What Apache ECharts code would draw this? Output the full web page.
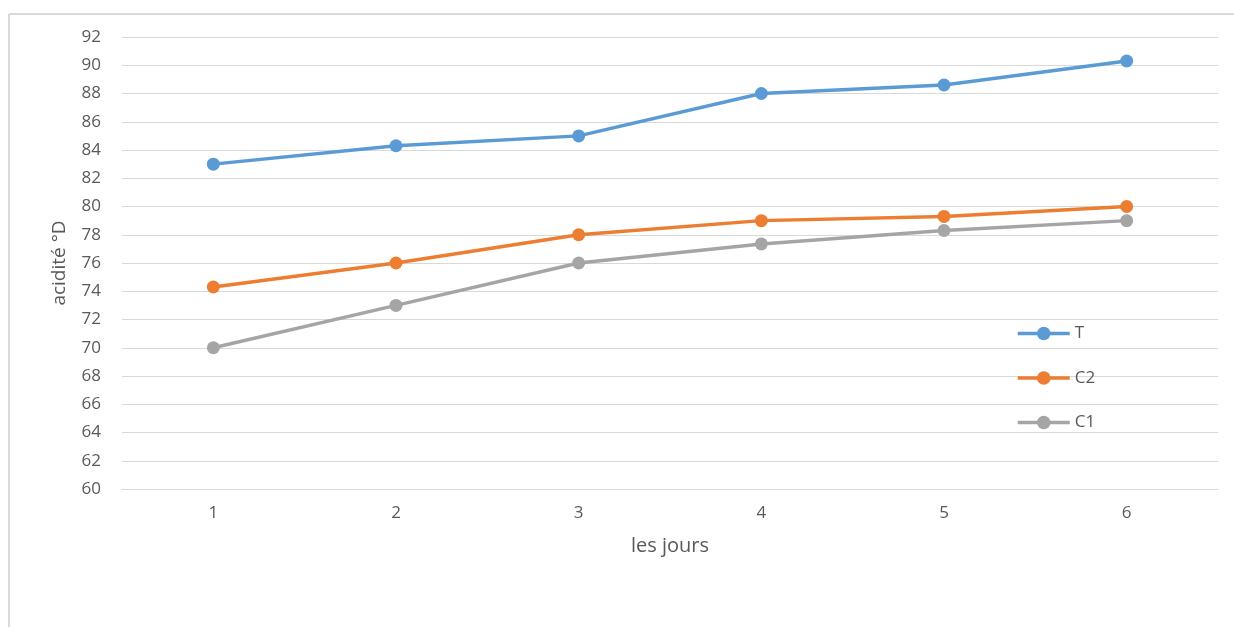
<!DOCTYPE html>
<html>
<head>
<meta charset="utf-8">
<style>
  html, body { margin: 0; padding: 0; background: #fff; }
  #chart { width: 1234px; height: 627px; }
</style>
<script src="https://cdn.jsdelivr.net/npm/echarts@6/dist/echarts.min.js"></script>
</head>
<body>
<div id="chart"></div>
<script>
// Days of the measurement
const days = ['1', '2', '3', '4', '5', '6'];

// Acidity (°D) per sample
const seriesT  = [83.0, 84.3, 85.0, 88.0, 88.6, 90.3];
const seriesC2 = [74.3, 76.0, 78.0, 79.0, 79.3, 80.0];
const seriesC1 = [70.0, 73.0, 76.0, 77.35, 78.3, 79.0];

const yMin = 60, yMax = 92, yStep = 2;

const textColor = '#595959';
const gridColor = '#d9d9d9';
const fontFamily = '"Open Sans", "Liberation Sans", sans-serif';

function lineSeries(name, data, color) {
  return {
    name: name,
    type: 'line',
    data: data,
    symbol: 'circle',
    symbolSize: 13,
    lineStyle: { color: color, width: 3.5 },
    itemStyle: { color: color },
    emphasis: { disabled: true }
  };
}

const chart = echarts.init(document.getElementById('chart'), null, { renderer: 'canvas' });

chart.setOption({
  animation: false,
  backgroundColor: '#ffffff',
  textStyle: { fontFamily: fontFamily },
  graphic: [
    { type: 'line', shape: { x1: 9, y1: 14, x2: 1234, y2: 14 }, style: { stroke: gridColor, lineWidth: 2 } },
    { type: 'line', shape: { x1: 9, y1: 14, x2: 9, y2: 627 }, style: { stroke: gridColor, lineWidth: 2 } }
  ],
  grid: { left: 122, right: 16, top: 37, bottom: 138, containLabel: false },
  legend: {
    orient: 'vertical',
    left: 1016,
    top: 325,
    padding: 0,
    itemWidth: 52,
    itemHeight: 17,
    itemGap: 27.5,
    lineStyle: { width: 3.5 },
    textStyle: { color: textColor, fontSize: 17, fontFamily: fontFamily },
    data: ['T', 'C2', 'C1']
  },
  xAxis: {
    type: 'category',
    data: days,
    boundaryGap: true,
    name: 'les jours',
    nameLocation: 'middle',
    nameGap: 47,
    nameTextStyle: { color: textColor, fontSize: 20, fontFamily: fontFamily },
    axisLine: { show: true, lineStyle: { color: gridColor, width: 1 } },
    axisTick: { show: false },
    axisLabel: { color: textColor, fontSize: 17, margin: 16, fontFamily: fontFamily }
  },
  yAxis: {
    type: 'value',
    min: yMin,
    max: yMax,
    interval: yStep,
    name: 'acidité °D',
    nameLocation: 'middle',
    nameGap: 53,
    nameTextStyle: { color: textColor, fontSize: 19, fontFamily: fontFamily },
    axisLine: { show: false },
    axisTick: { show: false },
    axisLabel: { color: textColor, fontSize: 17, margin: 21, fontFamily: fontFamily },
    splitLine: { show: true, lineStyle: { color: gridColor, width: 1 } }
  },
  series: [
    lineSeries('T', seriesT, '#5B9BD5'),
    lineSeries('C2', seriesC2, '#ED7D31'),
    lineSeries('C1', seriesC1, '#A5A5A5')
  ]
});
</script>
</body>
</html>
